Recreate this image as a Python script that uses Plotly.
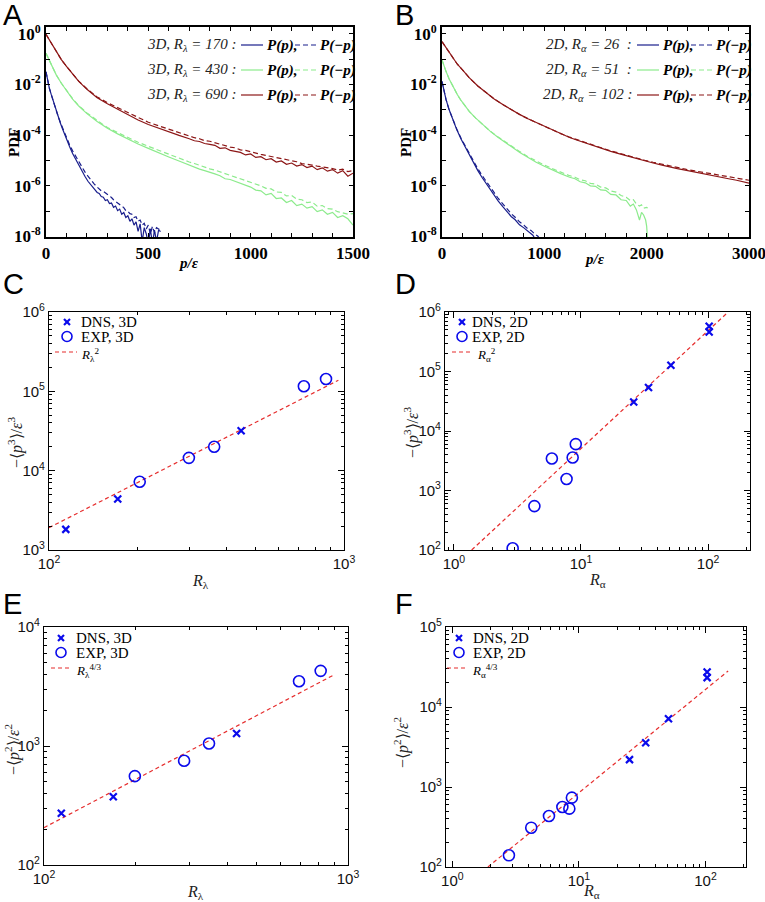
import plotly.graph_objects as go
import numpy as np

W, H = 765, 902

# ---------------- Panel A : 3D pressure PDFs (log10 of PDF) ----------------
pA = [0, 10, 20, 35, 50, 75, 100, 130, 160, 200, 250, 300, 350, 400, 450, 500, 550, 600, 650, 700,
      725, 750, 775, 800, 825, 850, 875, 900, 925, 950, 975, 1000, 1025, 1050, 1075, 1100, 1125,
      1150, 1175, 1200, 1225, 1250, 1275, 1300, 1325, 1350, 1375, 1400, 1425, 1450, 1475, 1500]
a690_pos_log10 = [-0.02, -0.15, -0.28, -0.50, -0.71, -1.02, -1.28, -1.60, -1.88, -2.19, -2.52, -2.76,
                  -2.98, -3.19, -3.40, -3.58, -3.73, -3.87, -4.01, -4.14,
                  -4.22, -4.25, -4.33, -4.36, -4.40, -4.52, -4.50, -4.60, -4.63, -4.68, -4.78, -4.74,
                  -4.88, -4.85, -4.97, -4.93, -5.06, -5.02, -5.15, -5.10, -5.22, -5.16, -5.28, -5.22,
                  -5.36, -5.29, -5.42, -5.36, -5.50, -5.40, -5.62, -5.50]
a690_neg_log10 = [-0.02, -0.15, -0.28, -0.50, -0.71, -1.02, -1.28, -1.59, -1.87, -2.17, -2.49, -2.72,
                  -2.92, -3.12, -3.32, -3.49, -3.63, -3.77, -3.90, -4.03,
                  -4.10, -4.14, -4.22, -4.24, -4.30, -4.36, -4.40, -4.47, -4.50, -4.58, -4.60, -4.66,
                  -4.70, -4.76, -4.80, -4.84, -4.90, -4.93, -4.98, -5.03, -5.05, -5.12, -5.14, -5.18,
                  -5.22, -5.25, -5.30, -5.32, -5.38, -5.34, -5.44, -5.40]
a430_pos_log10 = [-0.77, -0.95, -1.13, -1.40, -1.62, -1.95, -2.25, -2.58, -2.85, -3.15, -3.46, -3.73,
                  -3.95, -4.16, -4.35, -4.52, -4.70, -4.86, -5.02, -5.19,
                  -5.25, -5.34, -5.40, -5.48, -5.53, -5.60, -5.72, -5.75, -5.83, -5.90, -6.00, -6.05,
                  -6.17, -6.20, -6.36, -6.30, -6.50, -6.48, -6.66, -6.58, -6.78, -6.72, -6.88, -6.82,
                  -7.02, -6.95, -7.12, -7.05, -7.25, -7.18, -7.30, -7.55]
a430_neg_log10 = [-0.77, -0.95, -1.13, -1.40, -1.62, -1.95, -2.24, -2.56, -2.83, -3.12, -3.42, -3.70,
                  -3.90, -4.10, -4.28, -4.44, -4.60, -4.75, -4.90, -5.06,
                  -5.12, -5.20, -5.26, -5.33, -5.38, -5.45, -5.52, -5.58, -5.65, -5.72, -5.80, -5.85,
                  -5.95, -6.00, -6.10, -6.12, -6.24, -6.26, -6.40, -6.38, -6.52, -6.55, -6.66, -6.64,
                  -6.80, -6.78, -6.90, -6.92, -7.02, -7.06, -7.12, -7.10]
pA170 = [0, 8, 16, 25, 33, 41, 50, 60, 70, 80, 90, 100, 115, 130, 145, 160, 175, 190, 205, 220, 235,
         250, 260, 270, 280, 290, 300, 310, 320, 330, 340, 350, 360, 370, 380, 390, 400, 410, 420,
         430, 440, 450, 460, 470, 480, 490, 500, 510, 520, 530, 540, 550, 560]
a170_pos_log10 = [-1.50, -1.85, -2.13, -2.38, -2.59, -2.83, -3.07, -3.30, -3.52, -3.74, -3.96, -4.16,
                  -4.45, -4.72, -4.96, -5.20, -5.42, -5.62, -5.82, -5.97, -6.12,
                  -6.26, -6.30, -6.42, -6.45, -6.58, -6.55, -6.70, -6.68, -6.85, -6.80, -6.98, -6.92,
                  -7.12, -7.05, -7.25, -7.18, -7.40, -7.30, -7.55, -7.42, -7.80, -7.50, -8.20, -7.65,
                  -7.90, -8.30, -7.70, -8.30, -7.75, -8.20, -7.75, -7.80]
a170_neg_log10 = [-1.50, -1.85, -2.13, -2.38, -2.59, -2.83, -3.06, -3.28, -3.49, -3.70, -3.91, -4.10,
                  -4.38, -4.62, -4.84, -5.06, -5.26, -5.45, -5.62, -5.78, -5.92,
                  -6.05, -6.12, -6.20, -6.22, -6.28, -6.32, -6.40, -6.46, -6.55, -6.60, -6.68, -6.74,
                  -6.80, -6.86, -6.98, -7.00, -7.10, -7.12, -7.25, -7.22, -7.40, -7.35, -7.55, -7.48,
                  -7.70, -7.55, -7.90, -7.60, -7.85, -7.65, -7.70, -7.75]

# ---------------- Panel B : 2D pressure PDFs (log10 of PDF) ----------------
pB102 = [0, 25, 50, 104, 150, 200, 268, 350, 431, 510, 594, 680, 757, 840, 920, 1000, 1084, 1160,
         1247, 1330, 1410, 1490, 1573, 1650, 1736, 1820, 1900, 1980, 2063, 2150, 2226, 2300, 2389,
         2470, 2552, 2630, 2716, 2800, 2879, 2940, 3000]
b102_pos_log10 = [-0.31, -0.46, -0.60, -0.96, -1.20, -1.42, -1.74, -2.06, -2.33, -2.57, -2.79, -3.00,
                  -3.18, -3.35, -3.50, -3.65, -3.80, -3.95, -4.09, -4.21, -4.32, -4.44, -4.54, -4.64,
                  -4.74, -4.84, -4.93, -5.02, -5.10, -5.18, -5.26, -5.32, -5.39, -5.46, -5.52, -5.58,
                  -5.65, -5.72, -5.78, -5.84, -5.89]
b102_neg_log10 = [-0.31, -0.46, -0.60, -0.96, -1.20, -1.42, -1.74, -2.06, -2.33, -2.57, -2.79, -3.00,
                  -3.18, -3.35, -3.50, -3.65, -3.80, -3.94, -4.08, -4.20, -4.31, -4.42, -4.52, -4.62,
                  -4.72, -4.82, -4.90, -4.99, -5.07, -5.15, -5.22, -5.28, -5.35, -5.41, -5.47, -5.52,
                  -5.58, -5.64, -5.69, -5.74, -5.78]
pB51 = [0, 20, 40, 70, 104, 150, 186, 230, 268, 330, 400, 470, 540, 600, 680, 760, 840, 920, 1000,
        1084, 1160, 1247, 1300, 1350, 1400, 1450, 1500, 1550, 1600, 1650, 1700, 1750, 1800, 1840,
        1870, 1900, 1930, 1950, 1970, 1990, 2000, 2010]
b51_pos_log10 = [-1.03, -1.28, -1.49, -1.78, -2.07, -2.40, -2.63, -2.87, -3.07, -3.33, -3.60, -3.84,
                 -4.06, -4.24, -4.46, -4.68, -4.88, -5.07, -5.23, -5.39, -5.52, -5.66, -5.72, -5.84,
                 -5.88, -6.00, -6.02, -6.16, -6.18, -6.34, -6.36, -6.55, -6.58, -6.80, -6.72, -6.95,
                 -7.35, -7.05, -7.15, -7.35, -7.60, -8.20]
b51_neg_log10 = [-1.03, -1.28, -1.49, -1.78, -2.07, -2.40, -2.63, -2.87, -3.07, -3.33, -3.60, -3.84,
                 -4.05, -4.22, -4.44, -4.65, -4.85, -5.03, -5.18, -5.33, -5.46, -5.60, -5.66, -5.76,
                 -5.80, -5.90, -5.93, -6.05, -6.08, -6.20, -6.25, -6.38, -6.45, -6.58, -6.55, -6.72,
                 -6.80, -6.75, -6.88, -6.85, -6.85, -6.88]
pB26 = [0, 15, 39, 70, 104, 145, 186, 230, 268, 310, 349, 390, 431, 470, 512, 550, 594, 635, 676,
        715, 757, 800, 839, 870, 888, 910, 935, 960]
b26_pos_log10 = [-1.88, -2.20, -2.59, -3.00, -3.37, -3.79, -4.15, -4.50, -4.80, -5.11, -5.39, -5.66,
                 -5.91, -6.14, -6.37, -6.60, -6.82, -7.03, -7.21, -7.34, -7.54, -7.66, -7.80, -7.88,
                 -7.95, -8.10, -8.20, -8.30]
b26_neg_log10 = [-1.88, -2.20, -2.59, -3.00, -3.36, -3.77, -4.12, -4.45, -4.75, -5.04, -5.32, -5.58,
                 -5.83, -6.06, -6.28, -6.50, -6.72, -6.92, -7.10, -7.24, -7.42, -7.55, -7.70, -7.76,
                 -7.84, -7.92, -7.98, -8.10]

# ---------------- Panel C : -<p^3>/eps^3 vs R_lambda (3D) ----------------
C_dns_R = [114, 171, 448]
C_dns_val = [1820, 4400, 31800]
C_exp_R = [203, 298, 363, 731, 869]
C_exp_val = [7250, 14500, 20000, 116000, 143000]
C_fit_R = [100, 957]
C_fit_val = [1910, 138000]

# ---------------- Panel D : -<p^3>/eps^3 vs R_alpha (2D) ----------------
D_dns_R = [26, 34, 51, 102, 102]
D_dns_val = [30800, 53700, 127000, 461000, 574000]
D_exp_R = [2.9, 4.3, 5.9, 7.7, 8.6, 9.1]
D_exp_val = [107, 547, 3450, 1560, 3590, 6010]
D_fit_R = [1.38, 144]
D_fit_val = [100, 1000000]

# ---------------- Panel E : -<p^2>/eps^2 vs R_lambda (3D) ----------------
E_dns_R = [114, 169, 430]
E_dns_val = [272, 374, 1274]
E_exp_R = [199, 289, 349, 690, 813]
E_exp_val = [558, 751, 1050, 3500, 4280]
E_fit_R = [100, 893]
E_fit_val = [206, 3925]

# ---------------- Panel F : -<p^2>/eps^2 vs R_alpha (2D) ----------------
F_dns_R = [25.1, 33.7, 51, 103, 103]
F_dns_val = [2200, 3580, 7140, 23300, 27400]
F_exp_R = [2.8, 4.2, 5.8, 7.4, 8.4, 8.8]
F_exp_val = [140, 310, 434, 562, 536, 736]
F_fit_R = [1.91, 151]
F_fit_val = [100, 28200]

# tick labels
pdf_tickvals = [1e-8, 1e-6, 1e-4, 1e-2, 1]
pdf_ticktext = ['10<sup>-8</sup>', '10<sup>-6</sup>', '10<sup>-4</sup>', '10<sup>-2</sup>', '10<sup>0</sup>']
pdf_minorvals = [1e-7, 1e-5, 1e-3, 1e-1]

NAVY = 'rgb(25,30,140)'
LGREEN = 'rgb(140,235,140)'
BROWN = 'rgb(140,22,22)'
BLUE = 'rgb(10,10,235)'
RED = 'rgb(230,45,45)'
DASH = '5px,3px'
FITDASH = '4px,3px'


def dx(l, r):
    return [l / W, r / W]


def dy(t, b):
    return [1 - b / H, 1 - t / H]


fig = go.Figure()


def pdf_line(xs, logs, color, dash, xa, ya):
    fig.add_trace(go.Scatter(x=xs, y=list(10 ** np.array(logs)), mode='lines',
                             line=dict(color=color, width=1.2, dash=dash),
                             xaxis=xa, yaxis=ya, showlegend=False, hoverinfo='skip'))


# Panel A
pdf_line(pA170, a170_pos_log10, NAVY, 'solid', 'x', 'y')
pdf_line(pA170, a170_neg_log10, NAVY, DASH, 'x', 'y')
pdf_line(pA, a430_pos_log10, LGREEN, 'solid', 'x', 'y')
pdf_line(pA, a430_neg_log10, LGREEN, DASH, 'x', 'y')
pdf_line(pA, a690_pos_log10, BROWN, 'solid', 'x', 'y')
pdf_line(pA, a690_neg_log10, BROWN, DASH, 'x', 'y')
# Panel B
pdf_line(pB26, b26_pos_log10, NAVY, 'solid', 'x2', 'y2')
pdf_line(pB26, b26_neg_log10, NAVY, DASH, 'x2', 'y2')
pdf_line(pB51, b51_pos_log10, LGREEN, 'solid', 'x2', 'y2')
pdf_line(pB51, b51_neg_log10, LGREEN, DASH, 'x2', 'y2')
pdf_line(pB102, b102_pos_log10, BROWN, 'solid', 'x2', 'y2')
pdf_line(pB102, b102_neg_log10, BROWN, DASH, 'x2', 'y2')


def scaling_panel(xa, ya, dns_x, dns_y, exp_x, exp_y, fit_x, fit_y, dim, fitname):
    fig.add_trace(go.Scatter(x=fit_x, y=fit_y, mode='lines', name=fitname,
                             line=dict(color=RED, width=1.2, dash=FITDASH),
                             xaxis=xa, yaxis=ya, showlegend=False))
    fig.add_trace(go.Scatter(x=dns_x, y=dns_y, mode='markers', name='DNS, ' + dim,
                             marker=dict(symbol='x-thin', size=7, line=dict(color=BLUE, width=2.2)),
                             xaxis=xa, yaxis=ya, showlegend=False))
    fig.add_trace(go.Scatter(x=exp_x, y=exp_y, mode='markers', name='EXP, ' + dim,
                             marker=dict(symbol='circle-open', size=11, color=BLUE,
                                         line=dict(color=BLUE, width=1.6)),
                             xaxis=xa, yaxis=ya, showlegend=False))


scaling_panel('x3', 'y3', C_dns_R, C_dns_val, C_exp_R, C_exp_val, C_fit_R, C_fit_val, '3D', 'R_lambda^2')
scaling_panel('x4', 'y4', D_dns_R, D_dns_val, D_exp_R, D_exp_val, D_fit_R, D_fit_val, '2D', 'R_alpha^2')
scaling_panel('x5', 'y5', E_dns_R, E_dns_val, E_exp_R, E_exp_val, E_fit_R, E_fit_val, '3D', 'R_lambda^4/3')
scaling_panel('x6', 'y6', F_dns_R, F_dns_val, F_exp_R, F_exp_val, F_fit_R, F_fit_val, '2D', 'R_alpha^4/3')

bold_font = dict(family='Liberation Serif', size=17, color='black', weight='bold')
sans_font = dict(family='Liberation Sans', size=15, color='#111')


def lin_axis(domain, rng, tickvals, anchor, minor_dtick):
    return dict(domain=domain, range=rng, anchor=anchor, showline=True, linecolor='black',
                linewidth=1.6, mirror='allticks', ticks='inside', ticklen=4, tickcolor='black',
                showgrid=False, zeroline=False, automargin=False, ticklabeloverflow='allow',
                tickmode='array', tickvals=tickvals,
                ticktext=[str(v) for v in tickvals], tickfont=bold_font,
                minor=dict(ticks='inside', ticklen=4, tickcolor='black', dtick=minor_dtick, showgrid=False))


def pdf_axis(domain, anchor):
    return dict(domain=domain, type='log', range=[-8.02, 0.27], anchor=anchor, showline=True,
                linecolor='black', linewidth=1.6, mirror='allticks', ticks='inside', ticklen=4,
                tickcolor='black', showgrid=False, zeroline=False, automargin=False,
                ticklabeloverflow='allow', tickmode='array',
                tickvals=pdf_tickvals, ticktext=pdf_ticktext, tickfont=bold_font,
                minor=dict(ticks='inside', ticklen=4, tickcolor='black', tickmode='array',
                           tickvals=pdf_minorvals, showgrid=False))


def log_axis(domain, rng, anchor):
    lo, hi = int(np.floor(rng[0])), int(np.ceil(rng[1]))
    majors = [10.0 ** k for k in range(lo, hi + 1)]
    texts = ['10<sup>%d</sup>' % k for k in range(lo, hi + 1)]
    minors = [m * 10.0 ** k for k in range(lo, hi) for m in range(2, 10)]
    return dict(domain=domain, type='log', range=rng, anchor=anchor, showline=True,
                linecolor='black', linewidth=1.1, mirror='allticks', ticks='inside', ticklen=6,
                tickcolor='black', showgrid=False, zeroline=False, automargin=False,
                ticklabeloverflow='allow', tickmode='array',
                tickvals=majors, ticktext=texts, tickfont=sans_font,
                minor=dict(ticks='inside', ticklen=3, tickcolor='black', tickmode='array',
                           tickvals=minors, showgrid=False))


xA, yA = dx(46, 353), dy(27, 237)
xB, yB = dx(442, 749), dy(27, 237)
xC, yC = dx(49, 344), dy(312, 550)
xD, yD = dx(445, 750), dy(312, 550)
xE, yE = dx(44, 348), dy(627, 865)
xF, yF = dx(446, 746), dy(627, 867)

fig.update_layout(
    template='none',
    width=W, height=H, margin=dict(l=0, r=0, t=0, b=0, autoexpand=False),
    paper_bgcolor='white', plot_bgcolor='white', showlegend=False,
    xaxis=lin_axis(xA, [0, 1500], [0, 500, 1000, 1500], 'y', 100),
    yaxis=pdf_axis(yA, 'x'),
    xaxis2=lin_axis(xB, [0, 3000], [0, 1000, 2000, 3000], 'y2', 200),
    yaxis2=pdf_axis(yB, 'x2'),
    xaxis3=log_axis(xC, [2, 3], 'y3'), yaxis3=log_axis(yC, [3, 6], 'x3'),
    xaxis4=log_axis(xD, [-0.07, 2.33], 'y4'), yaxis4=log_axis(yD, [2, 6], 'x4'),
    xaxis5=log_axis(xE, [2, 3], 'y5'), yaxis5=log_axis(yE, [2, 4], 'x5'),
    xaxis6=log_axis(xF, [-0.05, 2.32], 'y6'), yaxis6=log_axis(yF, [2, 5], 'x6'),
)

ann = []
shapes = []


def px(x):
    return x / W


def py(y):
    return 1 - y / H


def text(x, y, s, size=15, family='Liberation Serif', xanchor='center', angle=0, weight='normal', color='black'):
    ann.append(dict(x=px(x), y=py(y), xref='paper', yref='paper', text=s, showarrow=False,
                    xanchor=xanchor, yanchor='middle', textangle=angle,
                    font=dict(family=family, size=size, color=color, weight=weight)))


def hline(x0, x1, y, color, dash='solid', width=1.2):
    shapes.append(dict(type='line', xref='paper', yref='paper', x0=px(x0), x1=px(x1),
                       y0=py(y), y1=py(y), line=dict(color=color, width=width, dash=dash)))


# panel letters
for letter, (lx, ly) in zip('ABCDEF', [(1, 15), (393, 15), (1, 284), (393, 284), (1, 604), (393, 604)]):
    text(lx, ly, letter, size=29, family='Liberation Sans', xanchor='left')

# axis titles
text(14, 143, '<b>PDF</b>', size=15, angle=-90)
text(406, 143, '<b>PDF</b>', size=15, angle=-90)
text(188, 263, '<b><i>p/ε</i></b>', size=15)
text(594, 259, '<b><i>p/ε</i></b>', size=15)
p3 = '−⟨<i>p</i><sup>3</sup>⟩/<i>ε</i><sup>3</sup>'
p2 = '−⟨<i>p</i><sup>2</sup>⟩/<i>ε</i><sup>2</sup>'
text(15, 443, p3, size=16, angle=-90, color='#222')
text(412, 433, p3, size=16, angle=-90, color='#222')
text(12, 750, p2, size=16, angle=-90, color='#222')
text(401, 743, p2, size=16, angle=-90, color='#222')
text(200, 581, '<i>R</i><sub>λ</sub>', size=16, color='#222')
text(597, 580, '<i>R</i><sub>α</sub>', size=16, color='#222')
text(196, 892, '<i>R</i><sub>λ</sub>', size=16, color='#222')
text(591, 891, '<i>R</i><sub>α</sub>', size=16, color='#222')

# legends for panels A and B
rowsA = ['3D, R<sub>λ</sub> = 170 :', '3D, R<sub>λ</sub> = 430 :', '3D, R<sub>λ</sub> = 690 :']
rowsB = ['2D, R<sub>α</sub> = 26  :', '2D, R<sub>α</sub> = 51  :', '2D, R<sub>α</sub> = 102 :']
row_colors = [NAVY, LGREEN, BROWN]
for rows, x0 in ((rowsA, 0), (rowsB, 396)):
    for i, (lab, col) in enumerate(zip(rows, row_colors)):
        yy = 45 + 25 * i
        text(x0 + 238, yy, '<i>' + lab + '</i>', size=15, xanchor='right', color='#222')
        hline(x0 + 241, x0 + 263, yy, col)
        text(x0 + 265, yy, '<b><i>P(p),</i></b>', size=15, xanchor='left')
        hline(x0 + 295, x0 + 317, yy, col, DASH)
        text(x0 + 318, yy, '<b><i>P(−p)</i></b>', size=15, xanchor='left')

# legends for panels C-F: (marker centre x, line x0, line x1, text x, first row y, dim, fit label)
leg_specs = [
    (67, 55, 77, 79, 322, '3D', '<i>R</i><sub>λ</sub><sup>2</sup>'),
    (462, 452, 473, 470, 322, '2D', '<i>R</i><sub>α</sub><sup>2</sup>'),
    (61, 51, 72, 74, 638, '3D', '<i>R</i><sub>λ</sub><sup>4/3</sup>'),
    (459, 447, 468, 471, 638, '2D', '<i>R</i><sub>α</sub><sup>4/3</sup>'),
]
for mx, l0, l1, tx, y0, dim, fitlab in leg_specs:
    # x marker
    shapes.append(dict(type='line', xref='paper', yref='paper', x0=px(mx - 3), x1=px(mx + 3),
                       y0=py(y0 - 3), y1=py(y0 + 3), line=dict(color=BLUE, width=2.2)))
    shapes.append(dict(type='line', xref='paper', yref='paper', x0=px(mx - 3), x1=px(mx + 3),
                       y0=py(y0 + 3), y1=py(y0 - 3), line=dict(color=BLUE, width=2.2)))
    text(tx, y0, 'DNS, ' + dim, size=15, xanchor='left')
    # circle marker
    y1 = y0 + 14.5
    shapes.append(dict(type='circle', xref='paper', yref='paper', x0=px(mx - 5), x1=px(mx + 5),
                       y0=py(y1 - 5), y1=py(y1 + 5), line=dict(color=BLUE, width=1.6)))
    text(tx, y1, 'EXP, ' + dim, size=15, xanchor='left')
    # fit line
    y2 = y0 + 30
    hline(l0, l1, y2, RED, FITDASH)
    text(l1 + 2, y2 + 3, fitlab, size=13, xanchor='left')

fig.update_layout(annotations=ann, shapes=shapes)
fig.write_html('out.html', config={'displayModeBar': False},
               post_script="document.body.style.margin='0px';document.body.style.padding='0px';")
